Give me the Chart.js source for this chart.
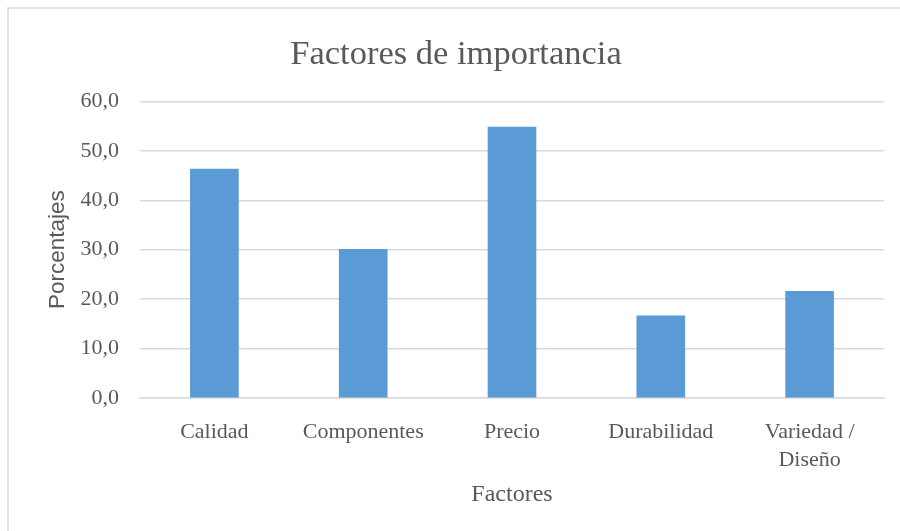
<!DOCTYPE html>
<html>
<head>
<meta charset="utf-8">
<script src="https://cdn.jsdelivr.net/npm/chart.js@4/dist/chart.umd.min.js"></script>
<style>
html,body{margin:0;padding:0;background:#fff;}
#wrap{width:900px;height:531px;position:relative;}
</style>
</head>
<body>
<div id="wrap"><canvas id="c" width="900" height="531"></canvas></div>
<script>
const categories = ["Calidad", "Componentes", "Precio", "Durabilidad", ["Variedad /", "Diseño"]];
const percentages = [46.3, 30.1, 54.8, 16.6, 21.6];
const yTicks = [0, 10, 20, 30, 40, 50, 60];

const TEXT = '#595959';
const GRID = '#d9d9d9';
const SERIF = '"Liberation Serif", "Times New Roman", serif';

const frame = {
  id: 'frame',
  beforeDraw(chart) {
    const ctx = chart.ctx;
    ctx.save();
    ctx.fillStyle = '#fff';
    ctx.fillRect(0, 0, chart.width, chart.height);
    ctx.strokeStyle = GRID;
    ctx.lineWidth = 1.5;
    ctx.beginPath();
    ctx.moveTo(8, chart.height);
    ctx.lineTo(8, 8);
    ctx.lineTo(chart.width, 8);
    ctx.stroke();
    ctx.restore();
  }
};

new Chart(document.getElementById('c'), {
  type: 'bar',
  data: {
    labels: categories,
    datasets: [{
      label: 'Porcentajes',
      data: percentages,
      backgroundColor: '#5b9bd5',
      borderWidth: 0,
      barThickness: 48
    }]
  },
  options: {
    responsive: false,
    animation: false,
    events: [],
    layout: { padding: { left: 28, right: 16, top: 8, bottom: 0 } },
    plugins: {
      legend: { display: false },
      tooltip: { enabled: false },
      title: {
        display: true,
        text: 'Factores de importancia',
        color: TEXT,
        font: { family: SERIF, size: 34.5, weight: 'normal', lineHeight: 1.2 },
        padding: { top: 26, bottom: 26 }
      }
    },
    scales: {
      x: {
        grid: { display: false, drawTicks: false },
        border: { display: true, color: GRID, width: 1.5 },
        ticks: {
          color: TEXT,
          font: { family: SERIF, size: 22, lineHeight: 1.27 },
          padding: 20,
          maxRotation: 0,
          autoSkip: false
        },
        title: {
          display: true,
          text: 'Factores',
          color: TEXT,
          font: { family: SERIF, size: 24, lineHeight: 1.2 },
          padding: { top: 0, bottom: 22 }
        },
        afterFit(scale) { scale.height = 133; }
      },
      y: {
        min: 0,
        max: 60,
        afterBuildTicks(scale) { scale.ticks = yTicks.map(v => ({ value: v })); },
        grid: { color: GRID, lineWidth: 1.5, drawTicks: false },
        border: { display: false },
        ticks: {
          color: TEXT,
          font: { family: SERIF, size: 22 },
          padding: 21,
          callback: (v) => Number(v).toFixed(1).replace('.', ',')
        },
        title: {
          display: true,
          text: 'Porcentajes',
          color: TEXT,
          font: { family: '"Liberation Sans", Arial, sans-serif', size: 22.5, lineHeight: 1.2 },
          padding: { top: 16, bottom: 0 }
        },
        afterFit(scale) { scale.width = 112; }
      }
    }
  },
  plugins: [frame]
});
</script>
</body>
</html>
